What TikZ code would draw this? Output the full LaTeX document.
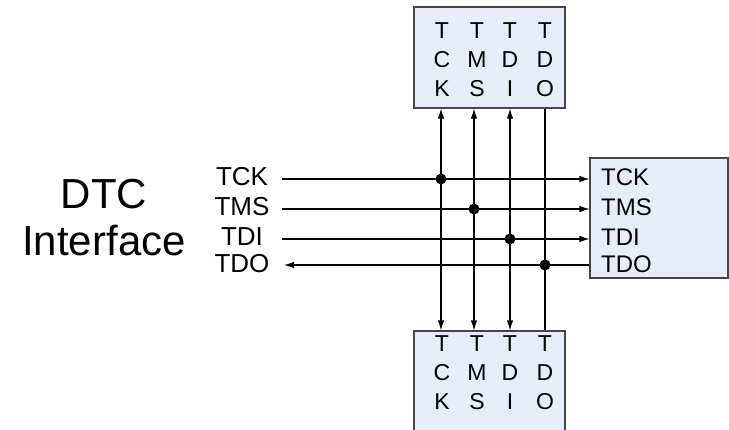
\documentclass[tikz,border=0pt]{standalone}
\usepackage{fontspec}
\setmainfont{Liberation Sans}
\usetikzlibrary{arrows.meta,positioning,calc}
\definecolor{boxfill}{RGB}{230,236,248}
\definecolor{boxline}{RGB}{70,70,70}

\begin{document}
\begin{tikzpicture}[
            x=1pt, y=-1pt,
            every node/.style={font=\fontsize{24}{26}\selectfont, inner sep=0pt},
            pin/.style={font=\fontsize{23}{25}\selectfont},
            port/.style={font=\fontsize{26}{28}\selectfont},
            dev/.style={draw=boxline, fill=boxfill, line width=1.2pt},
            sig/.style={line width=1.1pt},
            tip/.style={-{Latex[length=10pt,width=6.5pt]}},
            dot/.style={circle, fill=black, minimum size=11pt},
        ]
            \clip (0,0) rectangle (729,430);
            % devices
            \node[dev, minimum width=151, minimum height=101] (topdev) at (489.5,57.5) {};
            \node[dev, minimum width=151, minimum height=120] (botdev) at (489.5,391) {};
            \node[dev, minimum width=138, minimum height=120] (rightdev) at (659,218) {};
            \foreach \col/\x/\a/\b in {1/442/C/K, 2/477/M/S, 3/510/D/I, 4/545/D/O} {
                \node[pin] (tt\col) at (\x,31) {T};
                \node[pin] (tm\col) at (\x,60) {\a};
                \node[pin] (tb\col) at (\x,89) {\b};
                \node[pin] (bt\col) at (\x,344) {T};
                \node[pin] (bm\col) at (\x,373) {\a};
                \node[pin] (bb\col) at (\x,402) {\b};
            }
            \node[anchor=west] (rck) at (601,177) {TCK};
            \node[anchor=west] (rms) at (601,207) {TMS};
            \node[anchor=west] (rdi) at (601,237) {TDI};
            \node[anchor=west] (rdo) at (601,264) {TDO};
            % interface side
            \node[align=center, font=\fontsize{42}{47}\selectfont] (dtc) at (104,218) {DTC\\Interface};
            \node[port] (lck) at (242,177) {TCK};
            \node[port] (lms) at (242,207) {TMS};
            \node[port] (ldi) at (242,237) {TDI};
            \node[port] (ldo) at (242,264) {TDO};
            \coordinate (ick) at (282,179);
            \coordinate (ims) at (282,209);
            \coordinate (idi) at (282,239);
            \coordinate (ido) at (284,265);
            % vertical buses
            \foreach \nm/\x in {ck/441, ms/474, di/510, do/545} {
                \coordinate (u\nm) at (topdev.south -| \x,0);
                \coordinate (d\nm) at (botdev.north -| \x,0);
            }
            \foreach \nm in {ck, ms, di}
                \draw[sig, {Latex[length=10pt,width=6.5pt]}-{Latex[length=10pt,width=6.5pt]}] (u\nm) -- (d\nm);
            \draw[sig] (udo) -- (ddo);
            % horizontal lines
            \foreach \nm in {ck, ms, di}
                \draw[sig, tip] (i\nm) -- (rightdev.west |- i\nm);
            \draw[sig, tip] (rightdev.west |- ido) -- (ido);
            % taps
            \foreach \nm in {ck, ms, di, do}
                \node[dot] (x\nm) at (u\nm |- i\nm) {};
        \end{tikzpicture}
\end{document}
